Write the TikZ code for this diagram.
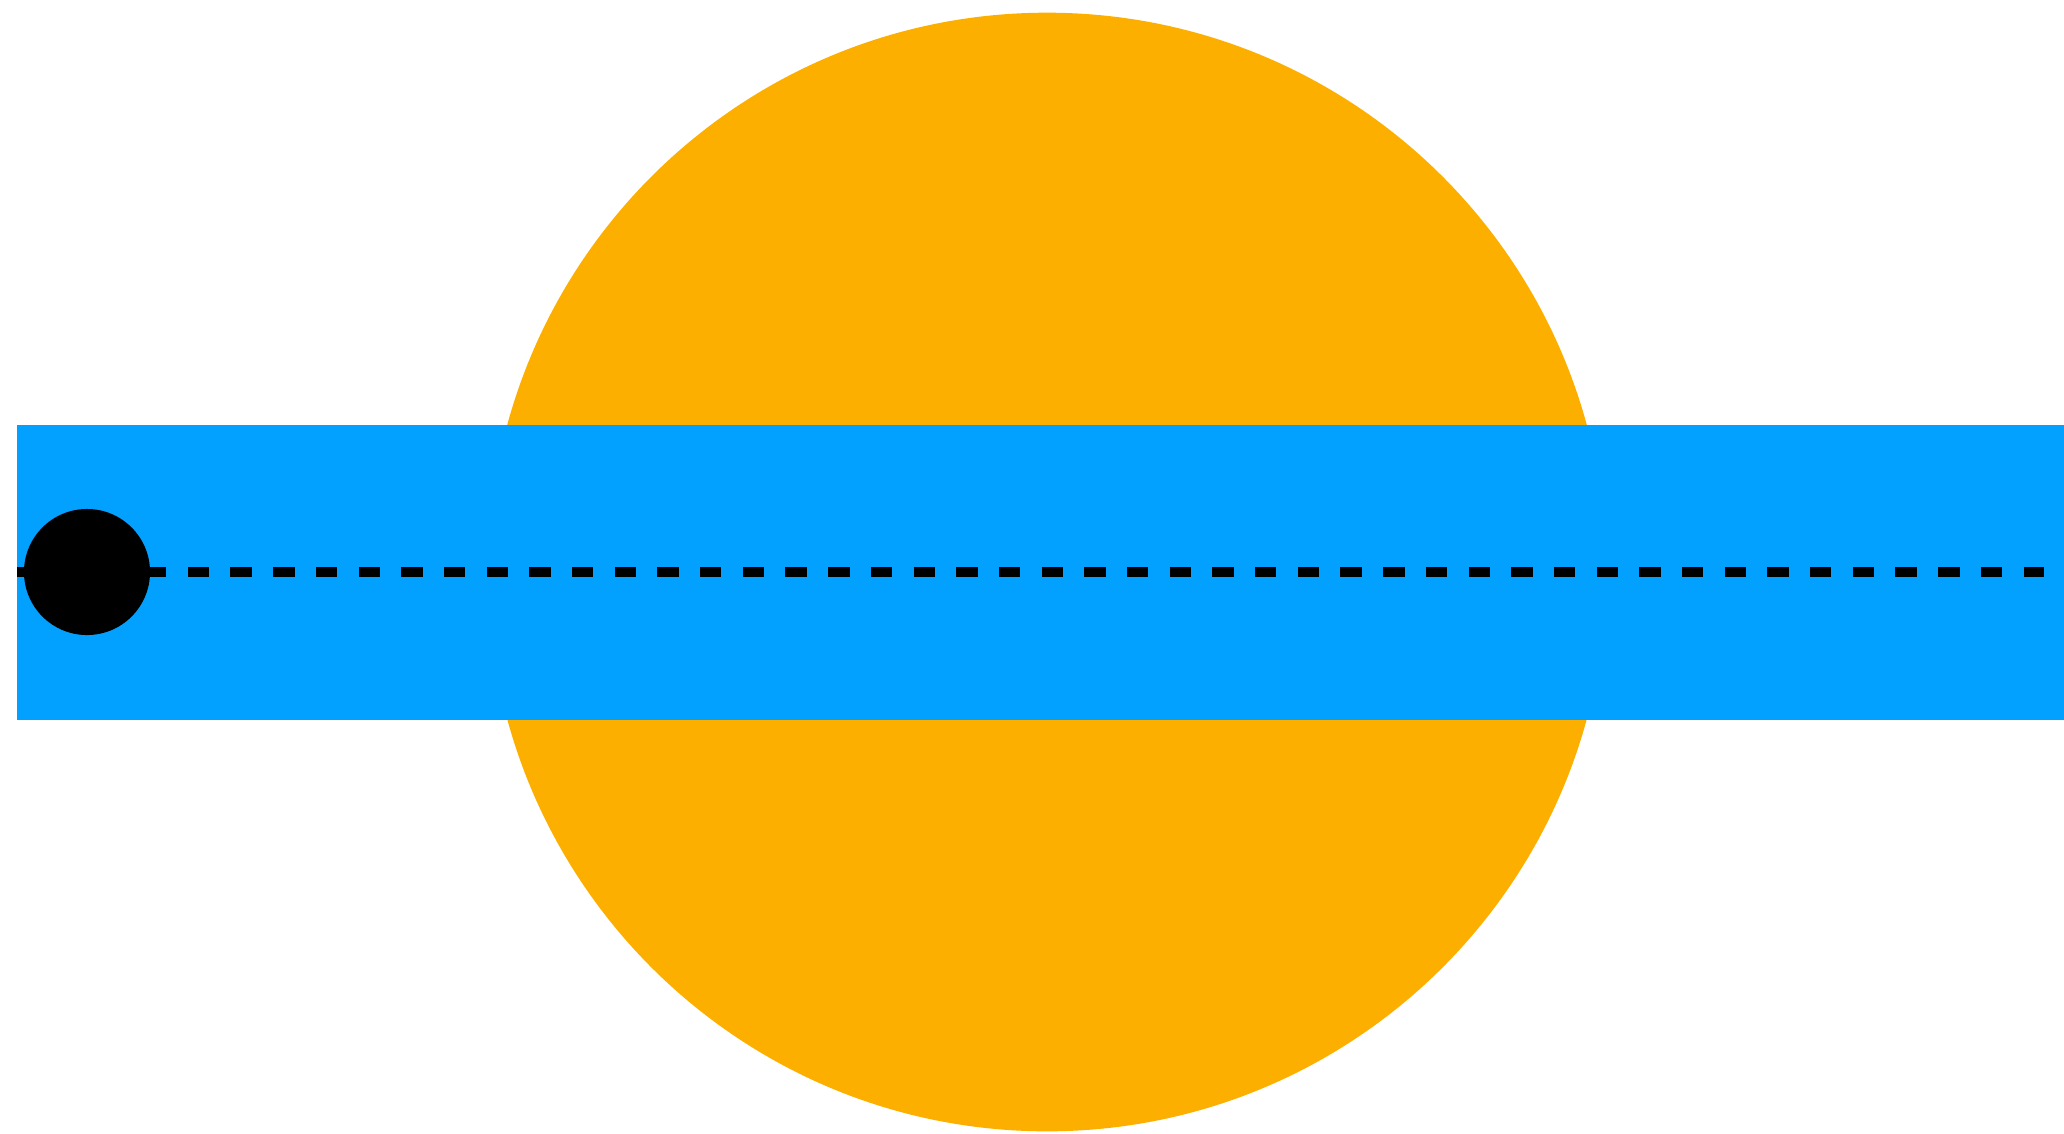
\documentclass[tikz,border=0pt]{standalone}
\usepackage{tikz}
\definecolor{sunOrange}{HTML}{FDAF00}
\definecolor{bandBlue}{HTML}{03A1FF}
\tikzset{
    sunDisc/.style={circle, fill=sunOrange, inner sep=0pt, minimum size=11.18cm},
    transitDot/.style={circle, fill=black, inner sep=0pt, minimum size=1.26cm},
    transitPath/.style={line width=3.04pt, dash pattern=on 6.07pt off 6.07pt},
}

\begin{document}
\begin{tikzpicture}[x=0.01cm, y=-0.01cm]
    \useasboundingbox (0,0) rectangle (2064,1133);

    % --- sun ---
    \node[sunDisc] (sun) at (1047,572) {};

    % --- band ---
    \fill[bandBlue] (17,425) rectangle (2064,720);

    % --- path of the planet ---
    \coordinate (pathStart) at (17,572);
    \coordinate (pathEnd) at (2044,572);
    \draw[transitPath] (pathStart) -- (pathEnd);

    % --- planet ---
    \node[transitDot] (planet) at (87,572) {};
\end{tikzpicture}
\end{document}
